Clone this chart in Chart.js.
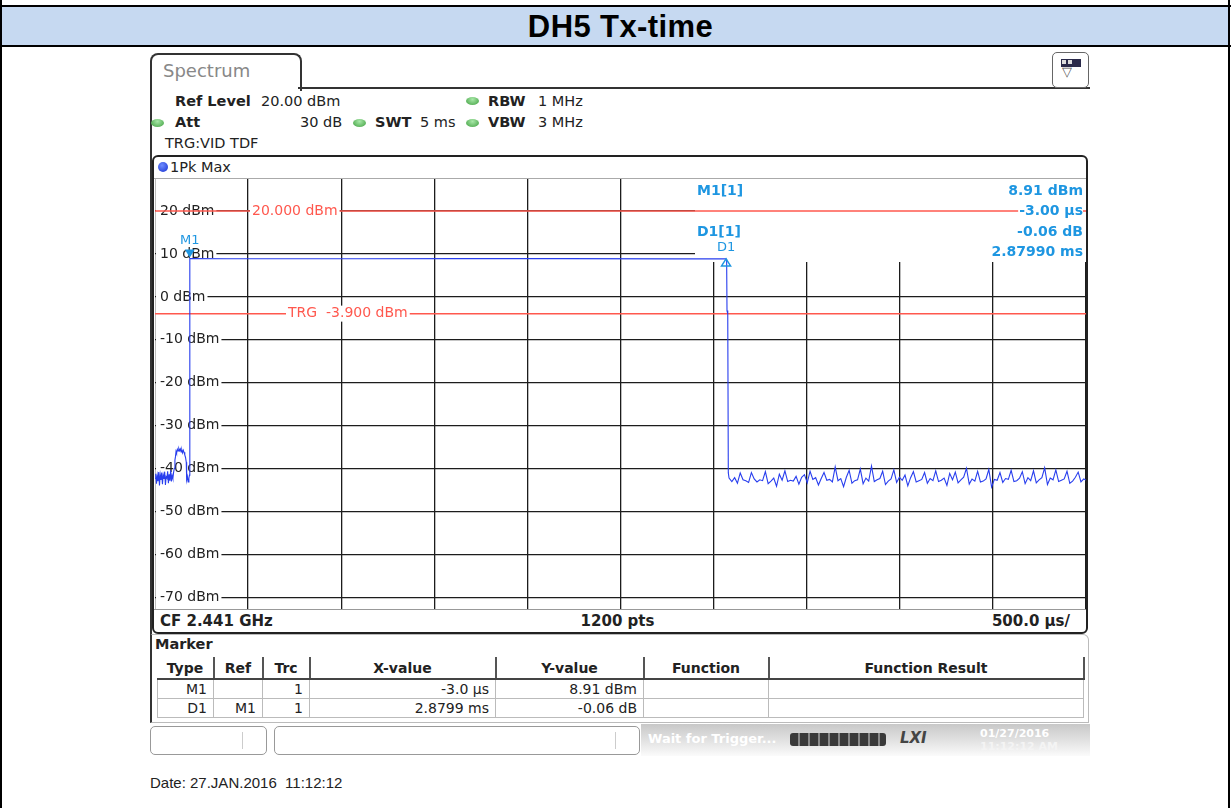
<!DOCTYPE html>
<html>
<head>
<meta charset="utf-8">
<title>DH5 Tx-time</title>
<script src="https://cdn.jsdelivr.net/npm/chart.js@4.4.0/dist/chart.umd.min.js"></script>
<style>
body { margin: 0; background: #fff; }
#page { position: relative; width: 1231px; height: 808px; overflow: hidden; font-family: "DejaVu Sans", sans-serif; color: #222; }
.a { position: absolute; white-space: nowrap; }
.led { position: absolute; width: 13px; height: 8px; border-radius: 50%; background: radial-gradient(ellipse at 50% 30%, #a8e8a8, #3f9f3f); }
.b { font-weight: bold; }
.info { font-size: 14.5px; line-height: 16px; }
#markerTable { position: absolute; left: 157px; top: 657px; width: 926px; border-collapse: collapse; table-layout: fixed; font-size: 14px; }
#markerTable th { height: 21px; font-weight: bold; border-bottom: 2px solid #444; border-right: 2px solid #555; padding: 0; text-align: center; }
#markerTable td { height: 18px; border: 1px solid #bbb; padding: 0 6px 0 0; text-align: right; }
</style>
</head>
<body>
<div id="page">
  <!-- outer report table -->
  <div class="a" style="left:0;top:5px;width:1231px;height:2px;background:#000"></div>
  <div class="a" style="left:2px;top:7px;width:1226px;height:38px;background:#c6d9f1"></div>
  <div class="a" style="left:0;top:45px;width:1231px;height:2px;background:#000"></div>
  <div class="a" style="left:0;top:0;width:2px;height:808px;background:#000"></div>
  <div class="a" style="left:1228px;top:0;width:2px;height:808px;background:#000"></div>
  <div class="a b" style="left:0;top:9px;width:1241px;text-align:center;font-family:'Liberation Sans',Arial,sans-serif;font-size:31px;line-height:36px;color:#000;letter-spacing:0.4px">DH5 Tx-time</div>

  <!-- instrument window -->
  <div class="a" style="left:150px;top:53px;width:148px;height:36px;border:2px solid #333;border-bottom:none;border-radius:8px 8px 0 0"></div>
  <div class="a" style="left:163px;top:60px;font-size:18px;color:#888">Spectrum</div>
  <div class="a" style="left:298px;top:87px;width:792px;height:2px;background:#333"></div>
  <div class="a" style="left:150px;top:87px;width:2px;height:636px;background:#333"></div>
  <div class="a" style="left:1052px;top:52px;width:35px;height:34px;border:1.5px solid #666;border-radius:5px;background:#fff"></div>
  <div class="a" style="left:1061px;top:59px;width:18px;height:6px;background:#2a2a4a;border:1px solid #2a2a4a"></div>
  <div class="a" style="left:1062px;top:60px;width:4px;height:4px;background:#ddd"></div>
  <div class="a" style="left:1068px;top:60px;width:4px;height:4px;background:#ddd"></div>
  <div class="a" style="left:1062px;top:64px;font-size:13px;color:#555">&#9661;</div>

  <div class="a info b" style="left:175px;top:93px">Ref Level</div>
  <div class="a info" style="left:261px;top:93px">20.00 dBm</div>
  <div class="led" style="left:466px;top:97px"></div>
  <div class="a info b" style="left:488px;top:93px">RBW</div>
  <div class="a info" style="left:538px;top:93px">1 MHz</div>

  <div class="led" style="left:151px;top:119px"></div>
  <div class="a info b" style="left:175px;top:114px">Att</div>
  <div class="a info" style="left:300px;top:114px">30 dB</div>
  <div class="led" style="left:353px;top:119px"></div>
  <div class="a info b" style="left:375px;top:114px">SWT</div>
  <div class="a info" style="left:420px;top:114px">5 ms</div>
  <div class="led" style="left:466px;top:119px"></div>
  <div class="a info b" style="left:488px;top:114px">VBW</div>
  <div class="a info" style="left:538px;top:114px">3 MHz</div>

  <div class="a info" style="left:165px;top:135px">TRG:VID TDF</div>

  <!-- diagram frame -->
  <div class="a" style="left:152px;top:155px;width:932px;height:475px;border:2px solid #222;border-radius:6px"></div>
  <div class="a" style="left:158px;top:162px;width:10px;height:10px;border-radius:50%;background:radial-gradient(circle at 40% 35%, #6f8cff, #1530d0)"></div>
  <div class="a info" style="left:170px;top:159px">1Pk Max</div>
  <div class="a" style="left:154px;top:178px;width:932px;height:1px;background:#aaa"></div>
  <div class="a" style="left:154px;top:609px;width:932px;height:1px;background:#999"></div>
  <div class="a b" style="left:160px;top:612px;font-size:15px">CF 2.441 GHz</div>
  <div class="a b" style="left:570px;top:612px;width:95px;text-align:center;font-size:15px">1200 pts</div>
  <div class="a b" style="left:960px;top:612px;width:110px;text-align:right;font-size:15px">500.0 µs/</div>

  <div class="a" style="left:155px;top:179px;width:931px;height:430px">
    <canvas id="chart"></canvas>
  </div>

  <!-- marker table -->
  <div class="a" style="left:150px;top:634px;width:936px;height:87px;border:1px solid #bbb;border-left:2px solid #333;border-radius:0 6px 0 0"></div>
  <div class="a b" style="left:155px;top:636px;font-size:14.5px">Marker</div>
  <table id="markerTable">
    <colgroup>
      <col style="width:56px"><col style="width:49px"><col style="width:47px"><col style="width:186px"><col style="width:148px"><col style="width:125px"><col style="width:315px">
    </colgroup>
    <tr><th>Type</th><th>Ref</th><th>Trc</th><th>X-value</th><th>Y-value</th><th>Function</th><th>Function Result</th></tr>
    <tr><td>M1</td><td></td><td>1</td><td>-3.0 µs</td><td>8.91 dBm</td><td></td><td></td></tr>
    <tr><td>D1</td><td>M1</td><td>1</td><td>2.8799 ms</td><td>-0.06 dB</td><td></td><td></td></tr>
  </table>

  <!-- status bar -->
  <div class="a" style="left:150px;top:726px;width:115px;height:27px;border:1px solid #999;border-radius:5px"></div>
  <div class="a" style="left:242px;top:732px;width:1px;height:17px;background:#ccc"></div>
  <div class="a" style="left:274px;top:726px;width:364px;height:27px;border:1px solid #999;border-radius:5px"></div>
  <div class="a" style="left:615px;top:732px;width:1px;height:17px;background:#ccc"></div>
  <div class="a" style="left:641px;top:724px;width:449px;height:32px;background:linear-gradient(to bottom,#c8c8c8,#ebebeb 70%,#fbfbfb)"></div>
  <div class="a b" style="left:648px;top:731px;font-size:13px;color:#fff">Wait for Trigger...</div>
  <div class="a" style="left:790px;top:733px;width:96px;height:13px;border-radius:3px;background:repeating-linear-gradient(to right,#3a3a3a 0,#3a3a3a 8px,#8a8a8a 8px,#8a8a8a 10px)"></div>
  <div class="a b" style="left:900px;top:729px;font-size:15px;font-style:italic;color:#444">LXI</div>
  <div class="a b" style="left:980px;top:727px;font-size:11px;color:#fff">01/27/2016</div>
  <div class="a b" style="left:980px;top:740px;font-size:11px;color:#f4f4f4">11:12:12 AM</div>

  <div class="a" style="left:150px;top:774px;font-family:'Liberation Sans',Arial,sans-serif;font-size:15px;color:#222">Date: 27.JAN.2016&nbsp; 11:12:12</div>
</div>

<script>
// sweep: 5 ms, 500 us/div, trigger offset before the burst
const xGridUs = [-190, 310, 810, 1310, 1810, 2310, 2810, 3310, 3810, 4310, 4810];
const yTicksDbm = [20, 10, 0, -10, -20, -30, -40, -50, -60, -70];
const yTickLabels = ['20 dBm', '10 dBm', '0 dBm', '-10 dBm', '-20 dBm', '-30 dBm', '-40 dBm', '-50 dBm', '-60 dBm', '-70 dBm'];

// trace 1 (1Pk Max): before the burst, the burst itself and the falling edge
const traceTimesUs = [-190, -186, -182, -178, -174, -170, -166, -162, -158, -154, -150, -146, -142, -138, -134, -130,
  -126, -122, -118, -114, -110, -106, -102, -98, -94, -90, -86, -83, -80, -77, -74, -70, -66, -62, -58, -54, -50,
  -46, -42, -38, -34, -30, -26, -22, -20, -16, -12, -8, -5, -3, 200, 900, 1430, 2000, 2600, 2876.9, 2880, 2882, 2886, 2889];
const traceLevelsDbm = [-42.3, -41.2, -43.5, -41.6, -42.9, -40.8, -43.9, -41.4, -42.6, -40.9, -43.6, -41.5, -42.4, -40.7, -43.8, -41.9,
  -42.2, -40.6, -43.4, -41.3, -42.8, -40.4, -43.0, -41.6, -42.3, -40.8, -39.9, -38.0, -37.2, -36.0, -36.4, -35.5, -35.9, -35.3, -35.8, -35.4, -36.1,
  -35.6, -36.3, -35.7, -36.2, -36.8, -37.4, -38.5, -42.6, -41.8, -43.1, -42.2, -41.5, 8.91, 8.88, 8.87, 8.90, 8.90, 8.86, 8.85, 8.80, -3.2, -4.0, -41.0];

// noise floor after the burst
const noiseStartUs = 2893;
const noiseStepUs = 15;
const noiseLevelsDbm = [
  -42.2, -43.0, -42.1, -43.4, -41.0, -42.6, -42.8, -43.2, -40.9, -42.4,
  -43.1, -42.6, -42.8, -40.7, -43.5, -42.9, -42.2, -44.1, -41.3, -42.7,
  -40.5, -43.0, -42.7, -42.9, -41.8, -43.6, -42.0, -41.4, -43.3, -40.6,
  -42.5, -42.1, -43.8, -42.3, -40.9, -42.7, -42.5, -43.1, -39.6, -42.8,
  -42.3, -44.2, -42.0, -40.4, -43.4, -42.8, -42.6, -40.1, -43.5, -42.2,
  -42.9, -39.4, -43.0, -42.6, -42.3, -40.6, -43.7, -42.9, -42.4, -40.3,
  -43.2, -42.0, -42.7, -41.5, -44.0, -42.1, -40.7, -43.1, -42.8, -42.5,
  -40.9, -43.4, -42.3, -42.8, -40.5, -43.0, -42.7, -42.2, -43.9, -41.1,
  -42.6, -40.8, -43.3, -42.6, -42.0, -39.9, -43.6, -42.4, -42.9, -40.6,
  -43.1, -42.9, -42.4, -40.2, -44.3, -42.5, -42.7, -40.9, -43.2, -42.3,
  -42.5, -40.4, -43.0, -42.8, -42.2, -40.7, -43.5, -42.1, -42.8, -40.5,
  -43.3, -42.6, -42.1, -39.8, -43.7, -42.2, -42.6, -40.3, -43.0, -42.7,
  -42.4, -40.6, -43.4, -42.9, -42.0, -40.8, -43.1, -42.4, -42.7
];

const displayLineDbm = 20.0;
const triggerLevelDbm = -3.9;

const markerNames = ['M1', 'D1'];
const markerTimesUs = [-3.0, 2876.9];
const markerLevelsDbm = [8.91, 8.85];
const markerInfoRows = [['M1[1]', '8.91 dBm'], ['', '-3.00 µs'], ['D1[1]', '-0.06 dB'], ['', '2.87990 ms']];

const traceColor = 'rgb(40, 62, 238)';
const redColor = 'rgb(255, 88, 78)';
const markerColor = 'rgb(30, 150, 225)';

// build trace points
const tracePoints = [];
for (let i = 0; i < traceTimesUs.length; i++) {
  tracePoints.push({ x: traceTimesUs[i], y: traceLevelsDbm[i] });
}
for (let i = 0; i < noiseLevelsDbm.length; i++) {
  tracePoints.push({ x: noiseStartUs + i * noiseStepUs, y: noiseLevelsDbm[i] });
}

const xMin = xGridUs[0], xMax = xGridUs[xGridUs.length - 1];

function textWithBg(ctx, text, x, y, color, padLeft) {
  const w = ctx.measureText(text).width;
  ctx.fillStyle = '#fff';
  ctx.fillRect(x - padLeft, y - 8, w + padLeft + 2, 16);
  ctx.fillStyle = color;
  ctx.fillText(text, x, y);
}

const spectrumPlugin = {
  id: 'spectrum',
  beforeDatasetsDraw(chart) {
    const ctx = chart.ctx;
    const area = chart.chartArea;
    const ys = chart.scales.y;
    ctx.save();
    // marker info field covers the grid in the top right corner
    ctx.fillStyle = '#fff';
    ctx.fillRect(area.right - 391, area.top, 391, 83);
    // level labels inside the diagram
    ctx.font = '14px "DejaVu Sans"';
    ctx.textBaseline = 'middle';
    ctx.textAlign = 'left';
    yTicksDbm.forEach((v, i) => {
      const y = ys.getPixelForValue(v);
      textWithBg(ctx, yTickLabels[i], area.left + 5, y, '#222', 4);
    });
    ctx.restore();
  },
  afterDatasetsDraw(chart) {
    const ctx = chart.ctx;
    const area = chart.chartArea;
    const xs = chart.scales.x;
    const ys = chart.scales.y;
    ctx.save();
    ctx.font = '14px "DejaVu Sans"';
    ctx.textBaseline = 'middle';
    ctx.textAlign = 'left';
    textWithBg(ctx, '20.000 dBm', area.left + 97, ys.getPixelForValue(displayLineDbm), redColor, 2);
    textWithBg(ctx, 'TRG  -3.900 dBm', area.left + 133, ys.getPixelForValue(triggerLevelDbm), redColor, 2);

    // marker symbols
    markerNames.forEach((name, i) => {
      const px = xs.getPixelForValue(markerTimesUs[i]);
      const py = ys.getPixelForValue(markerLevelsDbm[i]);
      ctx.strokeStyle = markerColor;
      ctx.fillStyle = markerColor;
      ctx.lineWidth = 1.5;
      ctx.beginPath();
      if (i === 0) {
        ctx.moveTo(px, py - 1);
        ctx.lineTo(px - 5, py - 9);
        ctx.lineTo(px + 5, py - 9);
        ctx.closePath();
        ctx.fill();
      } else {
        ctx.moveTo(px, py);
        ctx.lineTo(px - 4.5, py + 7);
        ctx.lineTo(px + 4.5, py + 7);
        ctx.closePath();
        ctx.stroke();
      }
      ctx.font = '13px "DejaVu Sans"';
      ctx.textAlign = 'center';
      ctx.fillText(name, px, i === 0 ? py - 18 : py - 11);
    });

    // marker readout
    ctx.font = 'bold 14px "DejaVu Sans"';
    const rowY = [12, 32, 53, 73];
    markerInfoRows.forEach((row, i) => {
      const y = area.top + rowY[i];
      if (row[0]) {
        ctx.textAlign = 'left';
        ctx.fillStyle = markerColor;
        ctx.fillText(row[0], area.left + 542, y);
      }
      const w = ctx.measureText(row[1]).width;
      ctx.fillStyle = '#fff';
      ctx.fillRect(area.right - 3 - w - 1, y - 8, w + 1, 16);
      ctx.textAlign = 'right';
      ctx.fillStyle = markerColor;
      ctx.fillText(row[1], area.right - 3, y);
    });
    ctx.restore();
  }
};

new Chart(document.getElementById('chart'), {
  type: 'line',
  data: {
    datasets: [
      {
        label: '1Pk Max',
        data: tracePoints,
        borderColor: traceColor,
        borderWidth: 1.1,
        pointRadius: 0,
        tension: 0,
        order: 0
      },
      {
        label: 'Display line',
        data: [{ x: xMin, y: displayLineDbm }, { x: xMax, y: displayLineDbm }],
        borderColor: redColor,
        borderWidth: 1.5,
        pointRadius: 0,
        order: 1
      },
      {
        label: 'Trigger level',
        data: [{ x: xMin, y: triggerLevelDbm }, { x: xMax, y: triggerLevelDbm }],
        borderColor: redColor,
        borderWidth: 1.5,
        pointRadius: 0,
        order: 2
      }
    ]
  },
  options: {
    responsive: true,
    maintainAspectRatio: false,
    animation: false,
    layout: { padding: 0 },
    plugins: { legend: { display: false }, tooltip: { enabled: false } },
    scales: {
      x: {
        type: 'linear',
        min: xMin,
        max: xMax,
        afterBuildTicks: (axis) => { axis.ticks = xGridUs.map(v => ({ value: v })); },
        ticks: { display: false },
        grid: { color: '#1c1c1c', lineWidth: 1.3, drawTicks: false },
        border: { display: false }
      },
      y: {
        type: 'linear',
        min: -72.68,
        max: 27.45,
        afterBuildTicks: (axis) => { axis.ticks = yTicksDbm.map(v => ({ value: v })); },
        ticks: { display: false },
        grid: { color: '#1c1c1c', lineWidth: 1.3, drawTicks: false },
        border: { display: false }
      }
    }
  },
  plugins: [spectrumPlugin]
});
</script>
</body>
</html>
